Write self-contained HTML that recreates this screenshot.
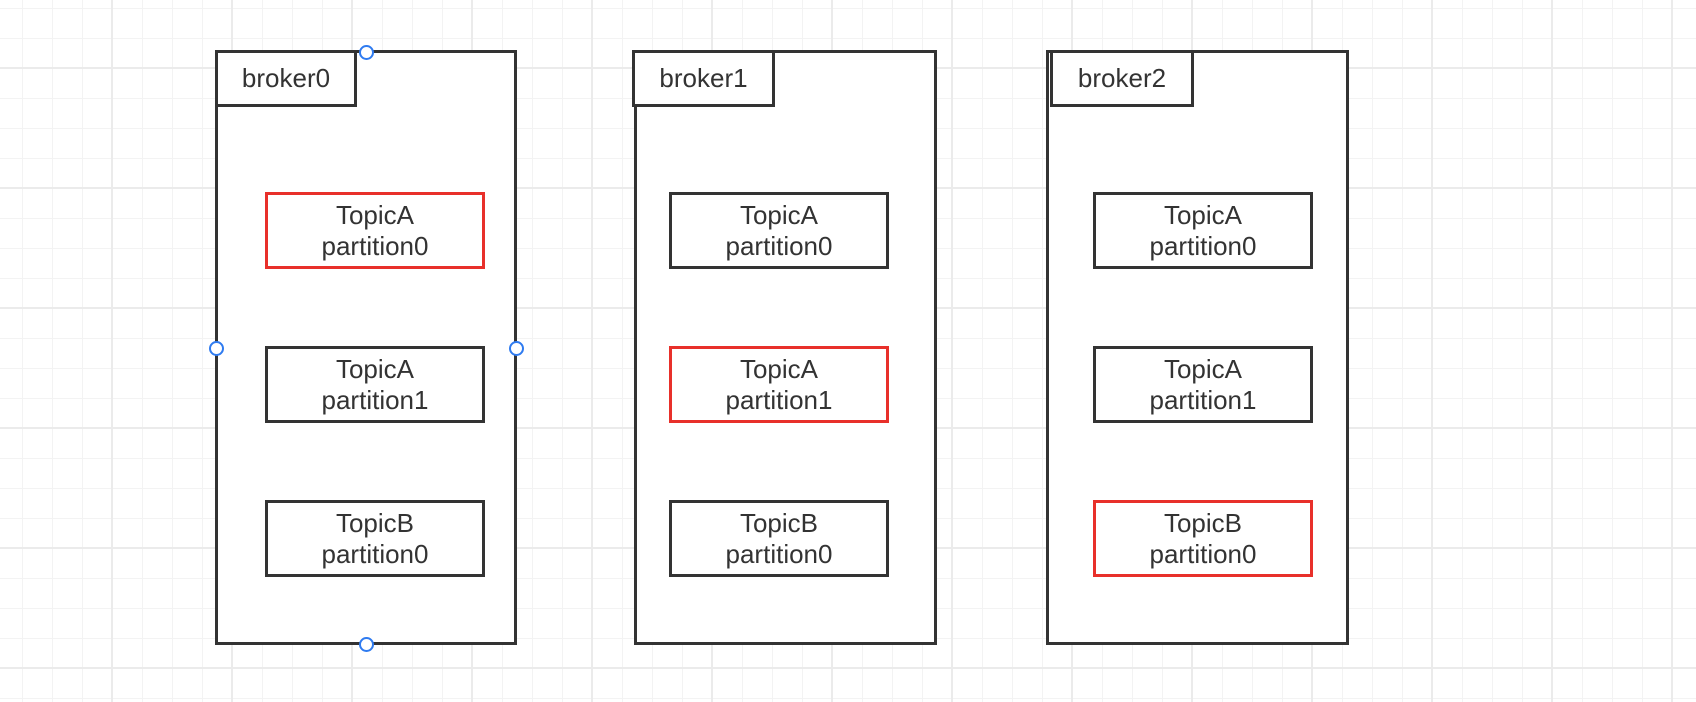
<!DOCTYPE html>
<html><head><meta charset="utf-8"><style>
html,body{margin:0;padding:0}
body{width:1696px;height:702px;overflow:hidden;background:#fff;position:relative;font-family:"Liberation Sans","Noto Sans CJK SC",sans-serif;
background-image:
linear-gradient(to right,#ebebeb 2px,transparent 2px),
linear-gradient(to bottom,#ebebeb 2px,transparent 2px),
linear-gradient(to right,#f3f3f3 1px,transparent 1px),
linear-gradient(to bottom,#f3f3f3 1px,transparent 1px);
background-size:120px 120px,120px 120px,30px 30px,30px 30px;
background-position:111px 0,0 67px,22px 0,0 8px;}
.b{position:absolute;box-sizing:border-box;border:3px solid #333;background:#fff}
.l{position:absolute;box-sizing:border-box;border:3px solid #333;background:#fff;font-size:26px;color:#333;display:flex;align-items:center;justify-content:center}
.t{position:absolute;box-sizing:border-box;border:3px solid #333;background:#fff;font-size:26px;line-height:31px;color:#333;text-align:center;display:flex;flex-direction:column;justify-content:center}
.r{border-color:#e8302a}
.c{position:absolute;width:15px;height:15px;border:2px solid #2f7bf0;border-radius:50%;background:#fff;box-sizing:border-box;transform:translate(-7px,-7px)}
</style></head><body>
<div class="b" style="left:215px;top:50px;width:302px;height:595px"></div>
<div class="l" style="left:215px;top:50px;width:142px;height:57px">broker0</div>
<div class="t r" style="left:265px;top:192px;width:220px;height:77px"><div>TopicA</div><div>partition0</div></div>
<div class="t" style="left:265px;top:346px;width:220px;height:77px"><div>TopicA</div><div>partition1</div></div>
<div class="t" style="left:265px;top:500px;width:220px;height:77px"><div>TopicB</div><div>partition0</div></div>

<div class="b" style="left:634px;top:50px;width:303px;height:595px"></div>
<div class="l" style="left:632px;top:50px;width:143px;height:57px">broker1</div>
<div class="t" style="left:669px;top:192px;width:220px;height:77px"><div>TopicA</div><div>partition0</div></div>
<div class="t r" style="left:669px;top:346px;width:220px;height:77px"><div>TopicA</div><div>partition1</div></div>
<div class="t" style="left:669px;top:500px;width:220px;height:77px"><div>TopicB</div><div>partition0</div></div>

<div class="b" style="left:1046px;top:50px;width:303px;height:595px"></div>
<div class="l" style="left:1050px;top:50px;width:144px;height:57px">broker2</div>
<div class="t" style="left:1093px;top:192px;width:220px;height:77px"><div>TopicA</div><div>partition0</div></div>
<div class="t" style="left:1093px;top:346px;width:220px;height:77px"><div>TopicA</div><div>partition1</div></div>
<div class="t r" style="left:1093px;top:500px;width:220px;height:77px"><div>TopicB</div><div>partition0</div></div>

<div class="c" style="left:366px;top:52px"></div>
<div class="c" style="left:216px;top:348px"></div>
<div class="c" style="left:516px;top:348px"></div>
<div class="c" style="left:366px;top:644px"></div>
</body></html>
